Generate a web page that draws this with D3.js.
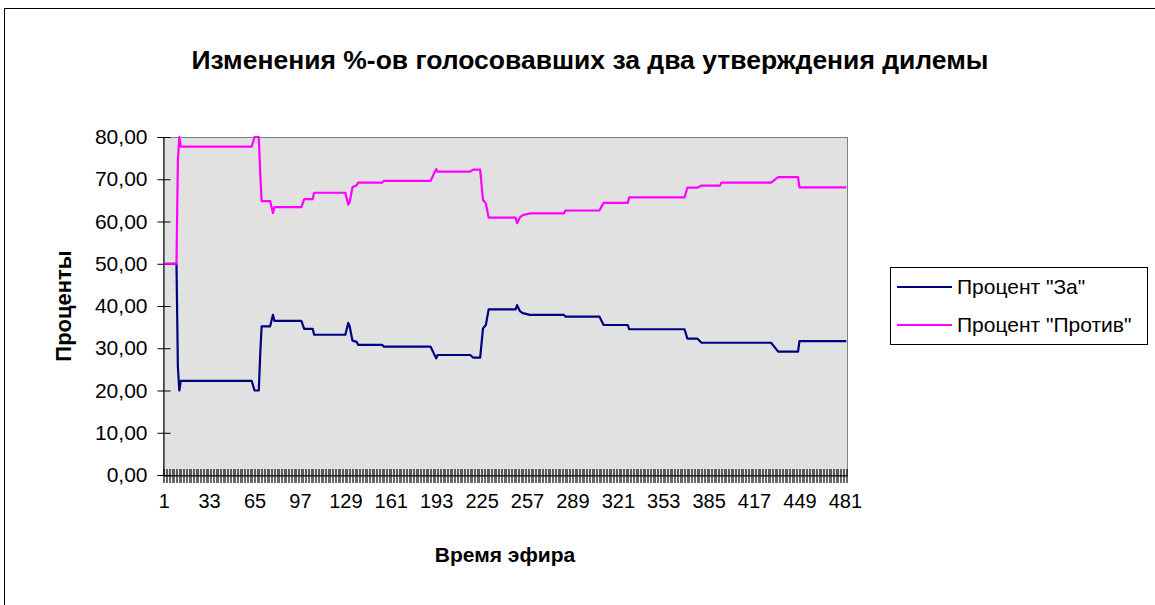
<!DOCTYPE html>
<meta charset="utf-8">
<script src="https://d3js.org/d3.v7.min.js"></script>
<style>
  body { margin: 0; background: #fff; }
  text { font-family: "Liberation Sans", Arial, sans-serif; }
</style>
<div id="my_dataviz"></div>
<script>

// data (key points of the two series)
var nCat = 482;
var time = [1, 10, 11, 12, 13, 63, 65, 68, 69, 70, 76, 78, 79, 98, 100, 106, 107, 129, 131, 132,
            134, 137, 138, 155, 156, 189, 193, 194, 217, 219, 224, 226, 228, 230, 249, 250, 252, 254,
            259, 283, 284, 308, 311, 328, 329, 368, 370, 377, 380, 393, 394, 429, 434, 448, 449, 482];
var za = [50, 50, 25.5, 20, 22.3, 22.3, 20, 20, 28.5, 35.2, 35.2, 37.9, 36.5, 36.5, 34.6, 34.6, 33.2, 33.2, 36.0, 35.2,
          31.8, 31.5, 30.8, 30.8, 30.4, 30.4, 27.6, 28.4, 28.4, 27.8, 27.8, 34.7, 35.5, 39.2, 39.2, 40.2, 38.8, 38.3,
          37.9, 37.9, 37.5, 37.5, 35.5, 35.5, 34.5, 34.5, 32.3, 32.3, 31.3, 31.3, 31.3, 31.3, 29.2, 29.2, 31.7, 31.7];
var protiv = [50, 50, 74.5, 80, 77.7, 77.7, 80, 80, 71.5, 64.8, 64.8, 62.0, 63.4, 63.4, 65.3, 65.3, 66.8, 66.8, 64.0, 64.5,
              68.1, 68.6, 69.2, 69.2, 69.6, 69.6, 72.4, 71.8, 71.8, 72.3, 72.3, 65.1, 64.3, 60.9, 60.9, 59.6, 61.0, 61.5,
              61.9, 61.9, 62.6, 62.6, 64.4, 64.4, 65.7, 65.7, 68.0, 68.0, 68.5, 68.5, 69.2, 69.2, 70.5, 70.5, 68.1, 68.1];
var yTicks = [0, 10, 20, 30, 40, 50, 60, 70, 80];
var xLabels = [1, 33, 65, 97, 129, 161, 193, 225, 257, 289, 321, 353, 385, 417, 449, 481];
var seriesNames = ['Процент "За"', 'Процент "Против"'];
var colors = ["#000080", "#ff00ff"];

var W = 1155, H = 605;
var plot = {left: 163, top: 137, right: 847, bottom: 475};

var svg = d3.select("#my_dataviz")
  .append("svg")
    .attr("width", W)
    .attr("height", H);

// outer chart border
svg.append("rect")
  .attr("x", 4.5).attr("y", 8.5)
  .attr("width", 1200).attr("height", 700)
  .attr("fill", "#fff").attr("stroke", "#000");

var x = d3.scaleLinear().domain([0.5, nCat + 0.5]).range([plot.left, plot.right]);
var y = d3.scaleLinear().domain([0, 80]).range([plot.bottom, plot.top]);

// plot area
svg.append("rect")
  .attr("x", plot.left + 0.5).attr("y", plot.top + 0.5)
  .attr("width", plot.right - plot.left).attr("height", plot.bottom - plot.top)
  .attr("fill", "#e1e1e1").attr("stroke", "#808080");

// title
svg.append("text")
  .attr("x", 590).attr("y", 69)
  .attr("text-anchor", "middle")
  .style("font-size", "26.5px").style("font-weight", "bold")
  .text("Изменения %-ов голосовавших за два утверждения дилемы");

// Y axis
var yAxis = svg.append("g")
  .attr("transform", "translate(" + (plot.left + 0.5) + ",0)")
  .call(d3.axisLeft(y).tickValues(yTicks).tickSize(6).tickPadding(10)
    .tickFormat(function(d) { return d.toFixed(2).replace(".", ","); }));
yAxis.select(".domain").attr("stroke", "#000");
yAxis.selectAll(".tick line").attr("x2", 7).attr("x1", -6);
yAxis.selectAll("text").style("font-size", "21px").attr("fill", "#000")
  .attr("font-family", null);

// X axis: dense crossing ticks at each category boundary
svg.append("g")
  .selectAll("line")
  .data(d3.range(0, nCat + 1))
  .enter()
  .append("line")
    .attr("x1", function(d) { return Math.round(x(d + 0.5)) + 0.5; })
    .attr("x2", function(d) { return Math.round(x(d + 0.5)) + 0.5; })
    .attr("y1", plot.bottom - 6)
    .attr("y2", plot.bottom + 8)
    .attr("stroke", "#000")
    .attr("stroke-width", 0.6);

var xAxis = svg.append("g")
  .attr("transform", "translate(0," + (plot.bottom + 0.5) + ")")
  .call(d3.axisBottom(x).tickValues(xLabels).tickSize(0).tickPadding(18)
    .tickFormat(d3.format("d")));
xAxis.select(".domain").attr("stroke", "#000");
xAxis.selectAll("text").style("font-size", "20px").attr("fill", "#000")
  .attr("font-family", null);

// axis titles
svg.append("text")
  .attr("x", 505).attr("y", 562)
  .attr("text-anchor", "middle")
  .style("font-size", "21px").style("font-weight", "bold")
  .text("Время эфира");

svg.append("text")
  .attr("transform", "translate(71,306) rotate(-90)")
  .attr("text-anchor", "middle")
  .style("font-size", "22px").style("font-weight", "bold")
  .text("Проценты");

// lines
var rows = time.map(function(t, i) { return {t: t, za: za[i], protiv: protiv[i]}; });
[["za", 0], ["protiv", 1]].forEach(function(s) {
  svg.append("path")
    .datum(rows)
    .attr("fill", "none")
    .attr("stroke", colors[s[1]])
    .attr("stroke-width", 2.2)
    .attr("stroke-linejoin", "round")
    .attr("d", d3.line()
      .x(function(d) { return x(d.t); })
      .y(function(d) { return y(d[s[0]]); }));
});

// legend
var legend = svg.append("g");
legend.append("rect")
  .attr("x", 890.5).attr("y", 267.5)
  .attr("width", 257).attr("height", 77)
  .attr("fill", "#fff").attr("stroke", "#000");
seriesNames.forEach(function(name, i) {
  var ly = 287 + i * 38;
  legend.append("line")
    .attr("x1", 897).attr("x2", 952)
    .attr("y1", ly).attr("y2", ly)
    .attr("stroke", colors[i]).attr("stroke-width", 2);
  legend.append("text")
    .attr("x", 957).attr("y", ly + 7)
    .style("font-size", "21px")
    .text(name);
});

</script>
